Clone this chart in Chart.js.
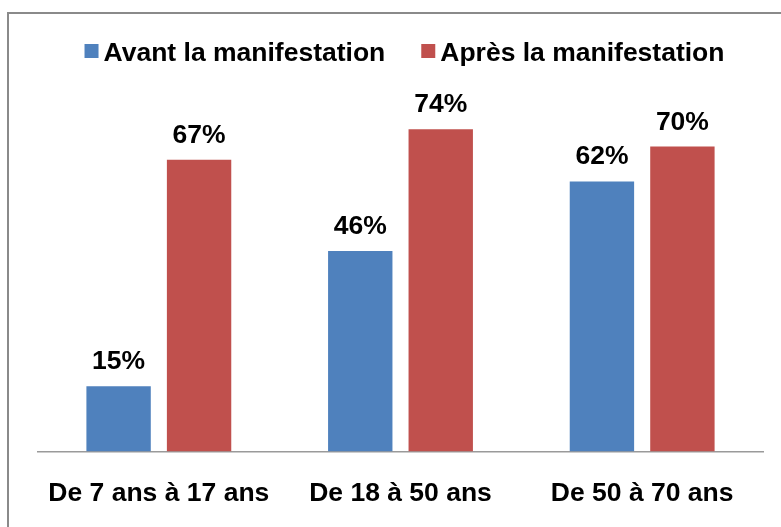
<!DOCTYPE html>
<html>
<head>
<meta charset="utf-8">
<script src="https://cdn.jsdelivr.net/npm/chart.js@4/dist/chart.umd.min.js"></script>
<style>
  html, body { margin: 0; padding: 0; background: #ffffff; }
  #wrap { position: relative; width: 781px; height: 527px; }
</style>
</head>
<body>
<div id="wrap"><canvas id="c" width="781" height="527"></canvas></div>
<script>
const categories = ['De 7 ans à 17 ans', 'De 18 à 50 ans', 'De 50 à 70 ans'];
const seriesNames = ['Avant la manifestation', 'Après la manifestation'];
const avant = [15, 46, 62];
const apres = [67, 74, 70];
const colors = ['#4F81BD', '#C0504D'];

const FONT = '"Liberation Sans", Arial, sans-serif';
const TEXT_SIZE = 26.5;

// Frame line along the top and left edge of the page
const framePlugin = {
  id: 'frame',
  beforeDraw(chart) {
    const ctx = chart.ctx;
    ctx.save();
    ctx.fillStyle = '#ffffff';
    ctx.fillRect(0, 0, chart.width, chart.height);
    ctx.strokeStyle = '#8a8a8a';
    ctx.lineWidth = 2;
    ctx.beginPath();
    ctx.moveTo(8, chart.height);
    ctx.lineTo(8, 13);
    ctx.lineTo(chart.width, 13);
    ctx.stroke();
    ctx.restore();
  }
};

// Square-marker legend centred above the bars
const legendPlugin = {
  id: 'squareLegend',
  afterDraw(chart) {
    const ctx = chart.ctx;
    ctx.save();
    ctx.font = 'bold ' + TEXT_SIZE + 'px ' + FONT;
    ctx.textBaseline = 'alphabetic';
    const box = 14, gap = 5, spacing = 36;
    const items = chart.data.datasets.map(ds => ({
      label: ds.label, color: ds.backgroundColor, w: ctx.measureText(ds.label).width
    }));
    let total = 0;
    items.forEach((it, i) => { total += box + gap + it.w + (i ? spacing : 0); });
    const ca = chart.chartArea;
    let x = (ca.left + ca.right) / 2 + 4 - total / 2;
    items.forEach((it, i) => {
      if (i) x += spacing;
      ctx.fillStyle = it.color;
      ctx.fillRect(x, 44, box, box);
      x += box + gap;
      ctx.fillStyle = '#000000';
      ctx.fillText(it.label, x, 61);
      x += it.w;
    });
    ctx.restore();
  }
};

// Percentage labels above each bar
const valueLabels = {
  id: 'valueLabels',
  afterDatasetsDraw(chart) {
    const ctx = chart.ctx;
    ctx.save();
    ctx.font = 'bold ' + TEXT_SIZE + 'px ' + FONT;
    ctx.fillStyle = '#000000';
    ctx.textAlign = 'center';
    ctx.textBaseline = 'alphabetic';
    chart.data.datasets.forEach((ds, di) => {
      chart.getDatasetMeta(di).data.forEach((bar, i) => {
        ctx.fillText(ds.data[i] + '%', bar.x, bar.y - 17);
      });
    });
    ctx.restore();
  }
};

new Chart(document.getElementById('c'), {
  type: 'bar',
  data: {
    labels: categories,
    datasets: [
      { label: seriesNames[0], data: avant, backgroundColor: colors[0] },
      { label: seriesNames[1], data: apres, backgroundColor: colors[1] }
    ]
  },
  options: {
    responsive: false,
    animation: false,
    devicePixelRatio: 1,
    layout: { padding: { left: 38, right: 18, top: 103, bottom: 0 } },
    datasets: { bar: { categoryPercentage: 0.666, barPercentage: 0.8 } },
    plugins: { legend: { display: false }, tooltip: { enabled: false } },
    scales: {
      y: { display: false, min: 0, max: 80 },
      x: {
        grid: { display: false, drawTicks: false },
        border: { display: true, color: '#9a9a9a', width: 1.5 },
        ticks: { color: '#000000', font: { family: FONT, size: TEXT_SIZE, weight: 'bold' }, padding: 26, maxRotation: 0, autoSkip: false },
        afterFit(scale) { scale.height = 75.5; }
      }
    }
  },
  plugins: [framePlugin, valueLabels, legendPlugin]
});
</script>
</body>
</html>
